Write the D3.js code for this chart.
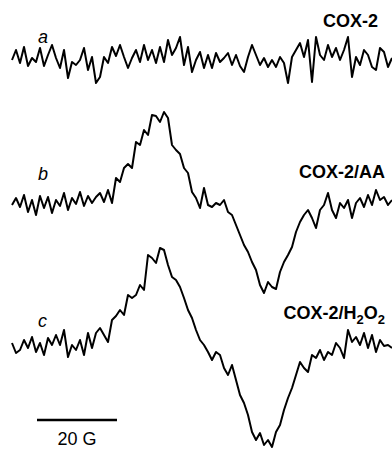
<!DOCTYPE html>
<html><head><meta charset="utf-8">
<script src="https://cdn.jsdelivr.net/npm/d3@7"></script>
<style>
html,body{margin:0;padding:0;background:#fff;}
svg{display:block;font-family:"Liberation Sans",Arial,sans-serif;}
</style></head>
<body>
<svg id="chart" width="392" height="449"></svg>
<script>
// Magnetic field offset (G), sampled every 1 G
const field = d3.range(0, 96, 1);
// EPR signal amplitudes (a.u.)
const traceA = [0,10,-3,13,-6,2,-2,12,-6,5, 15,2,-8,10,-18,-2,-5,0,12,-10, 3,-23,-17,3,-3,13,4,15,3,-8, 2,10,-2,15,0,10,-3,13,-2,20, 5,12,23,-5,13,-12,0,8,-8,5, -8,7,-2,2,7,-5,5,-6,-12,3, 15,5,-5,2,-7,0,-7,3,-3,-23, 3,10,17,3,20,-22,23,5,0,15, 3,12,0,10,23,-17,3,-5,10,5, -7,-10,12,8,-7,2];
const traceB = [0,7,-2,10,-7,5,-10,9,-3,8, -8,5,-1,12,-5,7,1,13,-1,9, 2,8,12,3,15,2,27,23,37,41, 37,63,60,75,70,90,89,83,93,87, 60,55,51,37,32,13,7,-3,17,0, -2,2,0,5,-7,-10,-20,-30,-40,-47, -57,-65,-80,-88,-77,-82,-84,-67,-57,-50, -42,-27,-17,-10,-5,-13,-23,-5,0,12, -5,-13,2,-3,5,-13,2,7,-2,10, 0,15,5,8,0,5];
const traceC = [2,-8,-5,5,-3,8,-7,2,-10,7, 0,10,0,15,-12,0,-5,5,-10,12, -3,12,17,10,3,25,29,35,30,50, 47,50,60,55,90,87,82,97,95,80, 68,65,58,47,35,27,15,5,0,-7, -15,-7,-10,-23,-30,-20,-35,-50,-58,-70, -87,-95,-88,-100,-95,-102,-87,-80,-65,-53, -43,-30,-17,-23,-27,-10,-13,-5,-15,-7, -10,2,-3,-13,15,3,8,0,12,-3, 10,-7,5,-1,0,-3];
const traceLetters = ["a","b","c"];
const traceNames = ["COX-2","COX-2/AA","COX-2/H₂O₂"];
const scaleBarLabel = "20 G";
const scaleBarLength = 20;

const svg = d3.select("#chart");
const x = d3.scaleLinear().domain([0, 95]).range([12, 392]);

// layout per trace: baseline y, letter position, name position
const layout = [
  {base: 60,  letterY: 43,  nameX: 378, nameY: 27},
  {base: 205, letterY: 180, nameX: 385, nameY: 178},
  {base: 345, letterY: 327, nameX: 385, nameY: 319}
];
const traces = [traceA, traceB, traceC];

traces.forEach((vals, i) => {
  const L = layout[i];
  const y = d3.scaleLinear().domain([-100, 100]).range([L.base + 100, L.base - 100]);
  const line = d3.line().x((d, j) => x(field[j])).y(d => y(d));
  svg.append("path").datum(vals)
    .attr("d", line)
    .attr("fill", "none")
    .attr("stroke", "#000")
    .attr("stroke-width", 2)
    .attr("stroke-linejoin", "round");
  svg.append("text")
    .attr("x", 38).attr("y", L.letterY)
    .attr("font-size", 18).attr("font-style", "italic")
    .text(traceLetters[i]);
  const t = svg.append("text")
    .attr("x", L.nameX).attr("y", L.nameY)
    .attr("text-anchor", "end")
    .attr("font-size", 18).attr("font-weight", "bold");
  const name = traceNames[i];
  if (name.includes("₂")) {
    // COX-2/H₂O₂ with real subscripts
    t.append("tspan").text("COX-2/H");
    t.append("tspan").attr("font-size", 13).attr("dy", 5).text("2");
    t.append("tspan").attr("dy", -5).text("O");
    t.append("tspan").attr("font-size", 13).attr("dy", 5).text("2");
  } else {
    t.text(name);
  }
});

// scale bar
const barStart = 6.25;
svg.append("line")
  .attr("x1", x(barStart)).attr("x2", x(barStart + scaleBarLength))
  .attr("y1", 420).attr("y2", 420)
  .attr("stroke", "#000").attr("stroke-width", 2.5);
svg.append("text")
  .attr("x", x(barStart + scaleBarLength / 2)).attr("y", 445)
  .attr("text-anchor", "middle").attr("font-size", 18)
  .text(scaleBarLabel);
</script>
</body></html>
